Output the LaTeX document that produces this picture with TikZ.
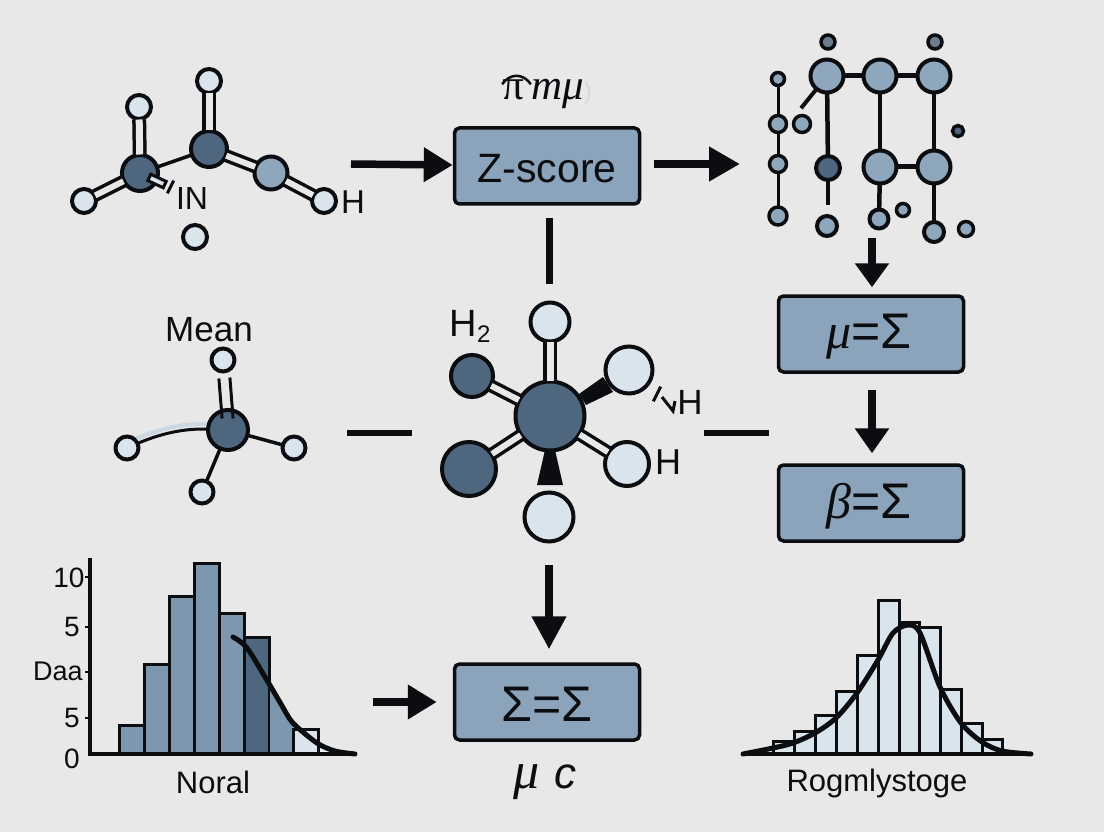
\documentclass[tikz,border=0pt]{standalone}
\usepackage{fontspec}
\setmainfont{Liberation Sans}
\newfontfamily\grkfont{Liberation Serif}
\usetikzlibrary{arrows.meta}
\definecolor{bgc}{HTML}{E8E8E8}
\definecolor{inkc}{HTML}{0B0D10}
\definecolor{darkc}{HTML}{4E677F}
\definecolor{midc}{HTML}{8FA7BC}
\definecolor{lightc}{HTML}{DAE4EC}
\definecolor{boxc}{HTML}{8CA4BB}
\definecolor{barc}{HTML}{7C97AE}
\begin{document}
\begin{tikzpicture}[
	x=1pt, y=-1pt,
	atomd/.style={ circle, draw=inkc, line width=4pt, fill=darkc, inner sep=0pt, minimum size=#1 },
	atomm/.style={ circle, draw=inkc, line width=4pt, fill=midc, inner sep=0pt, minimum size=#1 },
	atoml/.style={ circle, draw=inkc, line width=4pt, fill=lightc, inner sep=0pt, minimum size=#1 },
	dbond/.style={ draw=inkc, line width=3.5pt, double=bgc, double distance=7pt, shorten <=-1.5pt, shorten >=-1.5pt },
	sbond/.style={ draw=inkc, line width=#1, shorten <=-1.5pt, shorten >=-1.5pt },
	sbond/.default=3.5pt,
	valbox/.style={ rectangle, rounded corners=5pt, draw=inkc, line width=3.5pt, fill=boxc, inner sep=0pt, minimum width=185pt, minimum height=76pt },
	lbl/.style={ inner sep=0pt, text=inkc, font=\fontsize{#1}{#1}\selectfont },
	flow/.style={ draw=inkc, line width=7.5pt, -{Triangle[length=#1,width=33pt]} },
	flow/.default=29pt,
	plain/.style={ draw=inkc, line width=6pt },
	histbar/.style={ draw=inkc, line width=3pt, fill=#1 },
	curveln/.style={ draw=inkc, line width=5pt, line cap=round }
]

\fill[bgc] (0,0) rectangle (1104,832);
\useasboundingbox (0,0) rectangle (1104,832);

\node at (140,173) (ca) [atomd=36pt] {};
\node at (209,149) (cb) [atomd=36pt] {};
\node at (271,173) (cc) [atomm=33pt] {};
\node at (139,107) (catop) [atoml=24pt] {};
\node at (209,81) (cbtop) [atoml=24pt] {};
\node at (84,201) (caleft) [atoml=24pt] {};
\node at (324,201) (ccright) [atoml=24pt] {};
\node at (195,237) (lone) [atoml=24pt] {};
\node at (192,198) (lblin) [lbl=32] {IN};
\node at (353,202) (lblh) [lbl=33] {H};
\draw[sbond] (ca) to (cb);
\draw[dbond] (ca) to (catop);
\draw[dbond] (cb) to (cbtop);
\draw[dbond, double distance=6pt] (ca) to (caleft);
\draw[dbond, double distance=6pt] (cb) to (cc);
\draw[dbond, double distance=6pt] (cc) to (ccright);
\node at (157,181) (hash) [rectangle, rotate=-25, draw=inkc, line width=3pt, fill=lightc, inner sep=0pt, minimum width=17pt, minimum height=7pt] {};
\coordinate (tick1a) at (173,182);
\coordinate (tick1b) at (168,192);
\draw[sbond=3pt] (tick1a) to (tick1b);

\node at (547,94) (lblpi) [lbl=43] {{\grkfont π}\,{\grkfont\itshape mμ}\textcolor{black!15}{\fontsize{24}{24}\selectfont )}};
\coordinate (arca) at (503,83);
\coordinate (arcb) at (530,83);
\draw[sbond=2.5pt] (arca) .. controls (510,73) and (523,73) .. (arcb);
\node at (547,166) (zbox) [valbox] {};
\node at (547,169) (lblz) [lbl=41] {Z-score};
\coordinate (a1s) at (351,164);
\coordinate (a2e) at (740,164);
\draw[flow] (a1s) to (zbox);
\draw[flow=31pt, shorten <=13pt] (zbox.east |- a2e) to (a2e);

\node at (828,42) (ntop1) [atomm=14pt, line width=3.5pt, fill=black!25!midc] {};
\node at (935,42) (ntop2) [atomm=14pt, line width=3.5pt, fill=black!25!midc] {};
\node at (827,76) (nb1) [atomm=33pt] {};
\node at (880,76) (nb2) [atomm=33pt] {};
\node at (934,76) (nb3) [atomm=33pt] {};
\node at (880,167) (nb4) [atomm=33pt] {};
\node at (934,167) (nb5) [atomm=33pt] {};
\node at (828,168) (nd) [atomd=24pt] {};
\node at (778,79) (nl1) [atomm=13pt, line width=3.5pt] {};
\node at (778,124) (nl2) [atomm=17pt, line width=3.5pt] {};
\node at (778,164) (nl3) [atomm=17pt, line width=3.5pt] {};
\node at (778,216) (nl4) [atomm=18pt, line width=3.5pt] {};
\node at (802,124) (ns1) [atomm=17pt, line width=3.5pt] {};
\node at (958,131) (ns2) [atomd=11pt, line width=3.5pt] {};
\node at (827,226) (ns3) [atomm=20pt] {};
\node at (879,219) (ns4) [atomm=19pt] {};
\node at (903,210) (ns5) [atomm=13pt, line width=3.5pt] {};
\node at (934,232) (ns6) [atomm=20pt] {};
\node at (966,229) (ns7) [atomm=15pt, line width=3.5pt] {};
\coordinate (ntick) at (802,107);
\coordinate (ndend) at (828,204);
\draw[sbond=5pt] (nb1) to (nb2);
\draw[sbond=5pt] (nb2) to (nb3);
\draw[sbond=5pt] (nb4) to (nb5);
\draw[sbond=4.5pt] (nb1) to (nd);
\draw[sbond=4.5pt] (nd) to (ndend);
\draw[sbond=4.5pt] (nb2) to (nb4);
\draw[sbond=4.5pt] (nb3) to (nb5);
\draw[sbond=4.5pt] (nb4) to (ns4);
\draw[sbond=4.5pt] (nb5) to (ns6);
\draw[sbond=4pt] (nb1) to (ntick);
\draw[sbond=3pt] (nl1) to (nl2);
\draw[sbond=3pt] (nl2) to (nl3);
\draw[sbond=3pt] (nl3) to (nl4);

\coordinate (a3s) at (872,238);
\coordinate (a5s) at (549,565);
\coordinate (a6s) at (373,702);
\node at (871,334) (mubox) [valbox] {};
\node at (869,337) (lblmu) [lbl=50] {{\grkfont\itshape μ}=Σ};
\node at (871,503) (betabox) [valbox] {};
\node at (869,506) (lblbeta) [lbl=50] {{\grkfont\itshape β}=Σ};
\draw[flow=24pt, shorten >=7pt] (a3s) to (mubox.north -| a3s);
\draw[flow=25pt, shorten <=16pt, shorten >=10pt] (mubox.south -| a3s) to (betabox.north -| a3s);

\node at (209,330) (lblmean) [lbl=35] {Mean};
\node at (228,430) (mc) [atomd=40pt] {};
\node at (223,360) (mtop) [atoml=23pt] {};
\node at (127,448) (mleft) [atoml=23pt] {};
\node at (294,448) (mright) [atoml=23pt] {};
\node at (202,492) (mbot) [atoml=23pt] {};
\coordinate (md1a) at (219,380);
\coordinate (md1b) at (222,417);
\coordinate (md2a) at (230,379);
\coordinate (md2b) at (233,417);
\draw[lightc!80!midc, line width=4pt] (mleft.north east) .. controls (155,431) and (180,423) .. (mc.west |- 0,424);
\draw[sbond=3pt] (mleft) .. controls (155,436) and (180,428) .. (mc);
\draw[sbond] (mc) to (mright);
\draw[sbond] (mc) to (mbot);
\draw[sbond=3pt] (md1a) to (md1b);
\draw[sbond=3pt] (md2a) to (md2b);

\fill[inkc] (579,394) -- (586,405) -- (613,392) -- (603,377) -- cycle;
\fill[inkc] (545,450) -- (555,450) -- (563,485) -- (537,485) -- cycle;
\node at (550,416) (cent) [atomd=69pt] {};
\node at (550,322) (ctop) [atoml=39pt] {};
\node at (472,376) (cul) [atomd=42pt] {};
\node at (629,370) (cur) [atoml=47pt] {};
\node at (469,469) (cll) [atomd=54pt] {};
\node at (627,464) (clr) [atoml=44pt] {};
\node at (549,517) (cbot) [atoml=49pt] {};
\draw[dbond] (cent) to (ctop);
\draw[dbond, double distance=6pt] (cent) to (cul);
\draw[dbond, double distance=6pt] (cent) to (cll);
\draw[dbond, double distance=6pt] (cent) to (clr);
\node at (470,326) (lblh2) [lbl=38] {H\raisebox{-6pt}{\fontsize{24}{24}\selectfont 2}};
\node at (690,402) (lblnh) [lbl=35] {H};
\node at (668,462) (lblhb) [lbl=36] {H};
\coordinate (tick2a) at (660,388);
\coordinate (tick2b) at (654,400);
\draw[sbond=3pt] (tick2a) to (tick2b);
\draw[draw=inkc, line width=3pt] (662,397) -- (673,411) -- (675,401);

\coordinate (d1a) at (347,433);
\coordinate (d1b) at (412,433);
\coordinate (d2a) at (704,433);
\coordinate (d2b) at (769,433);
\draw[plain] (d1a) to (d1b);
\draw[plain] (d2a) to (d2b);
\coordinate (v1a) at (549,218);
\coordinate (v1b) at (549,284);
\draw[plain, line width=7pt] (v1a) to (v1b);

\node at (547,702) (sumbox) [valbox] {};
\node at (547,704) (lblsum) [lbl=50] {Σ=Σ};
\node at (545,782) (lblmuc) [lbl=44] {{\grkfont\itshape\fontsize{52}{52}\selectfont μ}\,\,{\itshape c}};
\draw[flow=33pt, shorten >=13pt] (a5s) to (sumbox.north -| a5s);
\draw[flow, shorten >=16pt] (a6s) to (sumbox.west |- a6s);

\draw[histbar=barc] (119,754) rectangle (144,725);
\draw[histbar=barc] (144,754) rectangle (169,664);
\draw[histbar=barc] (169,754) rectangle (194,596);
\draw[histbar=barc] (194,754) rectangle (219,563);
\draw[histbar=barc] (219,754) rectangle (244,613);
\draw[histbar=darkc] (244,754) rectangle (269,637);
\fill[barc] (270,754) -- (270,682) -- (281,704) -- (293,723) -- (293,754) -- cycle;
\draw[histbar=lightc] (293,754) -- (293,729) -- (318,729) -- (318,754);
\fill[lightc!50!white] (320,752) -- (320,743) -- (332,750) -- (345,752) -- cycle;
\draw[curveln] plot[smooth] coordinates {(233,637) (247,648) (268,682) (281,704) (293,723) (317,743) (335,751) (355,754)};
\draw[draw=inkc, line width=3.5pt] (90,558) -- (90,754) -- (355,754);
\draw[draw=inkc, line width=2.5pt] (85,577) -- (90,577);
\draw[draw=inkc, line width=2.5pt] (85,627) -- (90,627);
\draw[draw=inkc, line width=2.5pt] (85,672) -- (90,672);
\draw[draw=inkc, line width=2.5pt] (85,718) -- (90,718);
\node at (69,578) (t10) [lbl=28] {10};
\node at (72,627) (t5a) [lbl=28] {5};
\node at (58,671) (tdaa) [lbl=27] {Daa};
\node at (72,718) (t5b) [lbl=28] {5};
\node at (72,759) (t0) [lbl=28] {0};
\node at (213,782) (lblnoral) [lbl=31] {Noral};

\draw[histbar=lightc] (773,754) rectangle (794,741);
\draw[histbar=lightc] (794,754) rectangle (815,731);
\draw[histbar=lightc] (815,754) rectangle (836,715);
\draw[histbar=lightc] (836,754) rectangle (857,691);
\draw[histbar=lightc] (857,754) rectangle (878,655);
\draw[histbar=lightc] (878,754) rectangle (899,600);
\draw[histbar=lightc] (899,754) rectangle (919,622);
\draw[histbar=lightc] (919,754) rectangle (940,627);
\draw[histbar=lightc] (940,754) rectangle (961,689);
\draw[histbar=lightc] (961,754) rectangle (982,723);
\draw[histbar=lightc] (982,754) rectangle (1002,739);
\draw[draw=inkc, line width=3.5pt] (743,754) -- (1031,754);
\draw[curveln] plot[smooth] coordinates {(743,754) (773,748) (793,743) (815,733) (836,718) (857,693) (878,660) (893,633) (908,625) (920,633) (940,687) (961,723) (982,742) (1002,751) (1031,754)};
\node at (877,783) (lblrog) [lbl=31] {Rogmlystoge};

\end{tikzpicture}
\end{document}
